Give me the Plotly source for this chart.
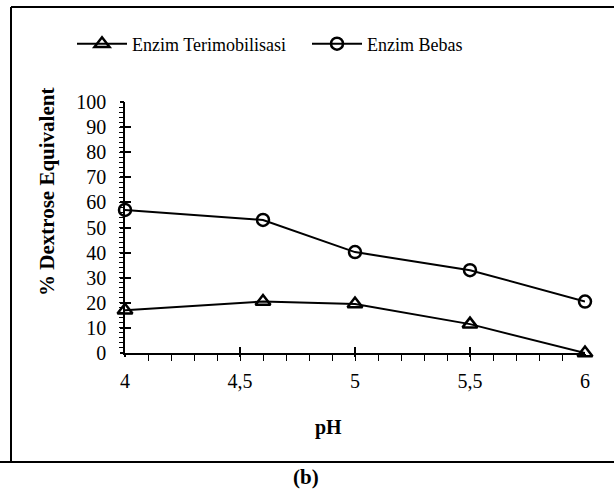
import plotly.graph_objects as go

ph_values = [4.0, 4.6, 5.0, 5.5, 6.0]
terimobilisasi = [17, 20.5, 19.5, 11.5, 0]
bebas = [57, 53, 40.2, 33, 20.5]
x_ticks = [4, 4.5, 5, 5.5, 6]
x_tick_labels = ["4", "4,5", "5", "5,5", "6"]
y_ticks = list(range(0, 101, 10))

FONT = "Liberation Serif, Times New Roman, serif"

fig = go.Figure()
fig.add_trace(go.Scatter(
    x=ph_values, y=terimobilisasi, name="Enzim Terimobilisasi", legend="legend",
    mode="lines+markers", cliponaxis=False,
    line=dict(color="black", width=2),
    marker=dict(symbol="triangle-up-open", size=13, color="black", line=dict(width=2.5)),
))
fig.add_trace(go.Scatter(
    x=ph_values, y=bebas, name="Enzim Bebas", legend="legend2",
    mode="lines+markers", cliponaxis=False,
    line=dict(color="black", width=2),
    marker=dict(symbol="circle-open", size=12, color="black", line=dict(width=2.5)),
))

legend_common = dict(orientation="h", xref="container", xanchor="left",
                     y=1 - 44 / 493, yref="container", yanchor="middle",
                     font=dict(family=FONT, size=18), itemwidth=50, bgcolor="rgba(0,0,0,0)")

fig.update_layout(
    width=614, height=493,
    margin=dict(l=125, r=29, t=102, b=140, autoexpand=False),
    paper_bgcolor="white", plot_bgcolor="white",
    font=dict(family=FONT, size=18, color="black"),
    showlegend=True,
    legend=dict(x=72 / 614, **legend_common),
    legend2=dict(x=307 / 614, **legend_common),
    xaxis=dict(range=[4, 6], tickvals=x_ticks, ticktext=x_tick_labels,
               showgrid=False, zeroline=False, showline=True, linecolor="black", linewidth=1.5,
               ticks="inside", ticklen=6, tickwidth=1.5, tickcolor="black",
               ticklabelstandoff=9,
               minor=dict(dtick=0.1, ticks="outside", ticklen=6, tickwidth=1, tickcolor="black"),
               tickfont=dict(family=FONT, size=20)),
    yaxis=dict(range=[0, 100], tickvals=y_ticks,
               showgrid=False, zeroline=False, showline=True, linecolor="black", linewidth=1.5,
               ticks="inside", ticklen=6, tickwidth=1.5, tickcolor="black",
               ticklabelstandoff=13,
               minor=dict(dtick=2, ticks="outside", ticklen=4, tickwidth=1, tickcolor="black"),
               tickfont=dict(family=FONT, size=20)),
    xaxis2=dict(range=[4, 6], overlaying="x", tickvals=x_ticks, showticklabels=False,
                showgrid=False, zeroline=False, showline=False,
                ticks="outside", ticklen=3, tickwidth=1.5, tickcolor="black"),
    yaxis2=dict(range=[0, 100], overlaying="y", tickvals=y_ticks, showticklabels=False,
                showgrid=False, zeroline=False, showline=False,
                ticks="outside", ticklen=4, tickwidth=1.5, tickcolor="black"),
)
fig.add_trace(go.Scatter(x=[4], y=[0], xaxis="x2", yaxis="y2", mode="markers",
                         marker=dict(opacity=0), showlegend=False, hoverinfo="skip"))

# border box
fig.add_shape(type="line", xref="paper", yref="paper",
              x0=(11 - 125) / 460, x1=(616 - 125) / 460, y0=(353 - 7) / 251, y1=(353 - 7) / 251,
              line=dict(color="black", width=2))
fig.add_shape(type="line", xref="paper", yref="paper",
              x0=(11 - 125) / 460, x1=(11 - 125) / 460, y0=(353 - 7) / 251, y1=(353 - 462) / 251,
              line=dict(color="black", width=2))
fig.add_shape(type="line", xref="paper", yref="paper",
              x0=(0 - 125) / 460, x1=(616 - 125) / 460, y0=(353 - 462) / 251, y1=(353 - 462) / 251,
              line=dict(color="black", width=2))

fig.add_annotation(text="<b>% Dextrose Equivalent</b>", textangle=-90, xref="paper", yref="paper",
                   x=(47 - 125) / 460, y=(353 - 192) / 251, showarrow=False,
                   font=dict(family=FONT, size=21), xanchor="center", yanchor="middle")
fig.add_annotation(text="<b>pH</b>", xref="paper", yref="paper",
                   x=(328 - 125) / 460, y=(353 - 427) / 251, showarrow=False,
                   font=dict(family=FONT, size=20), xanchor="center", yanchor="middle")
fig.add_annotation(text="<b>(b)</b>", xref="paper", yref="paper",
                   x=(306 - 125) / 460, y=(353 - 477) / 251, showarrow=False,
                   font=dict(family=FONT, size=21), xanchor="center", yanchor="middle")

fig.write_html("out.html", config={"displayModeBar": False},
               post_script="document.body.style.margin='0';")
